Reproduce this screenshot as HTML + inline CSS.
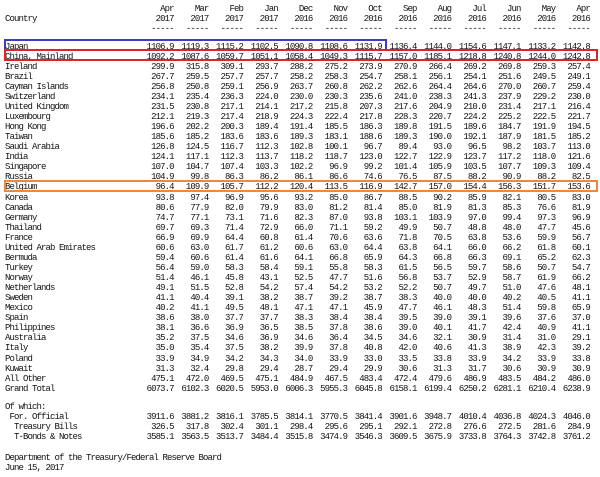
<!DOCTYPE html>
<html><head><meta charset="utf-8"><style>
body{margin:0;background:#fff;}
#w{position:relative;width:600px;height:477px;overflow:hidden;font-family:"Liberation Mono","Noto Sans CJK SC",monospace;font-size:9px;letter-spacing:-0.9px;color:#111;}
table{position:absolute;left:5px;border-collapse:collapse;table-layout:fixed;}
td{padding:0;height:10.07px;line-height:10.07px;text-align:right;white-space:pre;overflow:visible;}
td:first-child{text-align:left;}
.b{position:absolute;box-sizing:border-box;border:2px solid;}
.t{position:absolute;left:5px;white-space:pre;}
</style></head><body><div id="w">
<table style="top:3.5px">
<colgroup><col style="width:134px"><col span="13" style="width:34.7px"></colgroup>
<tr><td></td><td>Apr</td><td>Mar</td><td>Feb</td><td>Jan</td><td>Dec</td><td>Nov</td><td>Oct</td><td>Sep</td><td>Aug</td><td>Jul</td><td>Jun</td><td>May</td><td>Apr</td></tr>
<tr><td>Country</td><td>2017</td><td>2017</td><td>2017</td><td>2017</td><td>2016</td><td>2016</td><td>2016</td><td>2016</td><td>2016</td><td>2016</td><td>2016</td><td>2016</td><td>2016</td></tr>
<tr><td></td><td>-----</td><td>-----</td><td>-----</td><td>-----</td><td>-----</td><td>-----</td><td>-----</td><td>-----</td><td>-----</td><td>-----</td><td>-----</td><td>-----</td><td>-----</td></tr>
</table>
<table style="top:41.6px">
<colgroup><col style="width:134px"><col span="13" style="width:34.7px"></colgroup>
<tr><td>Japan</td><td>1106.9</td><td>1119.3</td><td>1115.2</td><td>1102.5</td><td>1090.8</td><td>1108.6</td><td>1131.9</td><td>1136.4</td><td>1144.0</td><td>1154.6</td><td>1147.1</td><td>1133.2</td><td>1142.8</td></tr>
<tr><td>China, Mainland</td><td>1092.2</td><td>1087.6</td><td>1059.7</td><td>1051.1</td><td>1058.4</td><td>1049.3</td><td>1115.7</td><td>1157.0</td><td>1185.1</td><td>1218.8</td><td>1240.8</td><td>1244.0</td><td>1242.8</td></tr>
<tr><td>Ireland</td><td>299.9</td><td>315.8</td><td>309.1</td><td>293.7</td><td>288.2</td><td>275.2</td><td>273.9</td><td>270.9</td><td>266.4</td><td>269.2</td><td>269.8</td><td>259.3</td><td>257.4</td></tr>
<tr><td>Brazil</td><td>267.7</td><td>259.5</td><td>257.7</td><td>257.7</td><td>258.2</td><td>258.3</td><td>254.7</td><td>258.1</td><td>256.1</td><td>254.1</td><td>251.6</td><td>249.5</td><td>249.1</td></tr>
<tr><td>Cayman Islands</td><td>256.8</td><td>250.8</td><td>259.1</td><td>256.9</td><td>263.7</td><td>260.8</td><td>262.2</td><td>262.6</td><td>264.4</td><td>264.6</td><td>270.0</td><td>260.7</td><td>259.4</td></tr>
<tr><td>Switzerland</td><td>234.1</td><td>235.4</td><td>236.3</td><td>224.0</td><td>230.0</td><td>230.3</td><td>235.6</td><td>241.0</td><td>238.3</td><td>241.3</td><td>237.9</td><td>229.2</td><td>230.0</td></tr>
<tr><td>United Kingdom</td><td>231.5</td><td>230.8</td><td>217.1</td><td>214.1</td><td>217.2</td><td>215.8</td><td>207.3</td><td>217.6</td><td>204.9</td><td>210.0</td><td>231.4</td><td>217.1</td><td>216.4</td></tr>
<tr><td>Luxembourg</td><td>212.1</td><td>219.3</td><td>217.4</td><td>218.9</td><td>224.3</td><td>222.4</td><td>217.8</td><td>228.3</td><td>220.7</td><td>224.2</td><td>225.2</td><td>222.5</td><td>221.7</td></tr>
<tr><td>Hong Kong</td><td>196.6</td><td>202.2</td><td>200.3</td><td>189.4</td><td>191.4</td><td>185.5</td><td>186.3</td><td>189.8</td><td>191.5</td><td>189.6</td><td>184.7</td><td>191.9</td><td>194.5</td></tr>
<tr><td>Taiwan</td><td>185.6</td><td>185.2</td><td>183.6</td><td>183.6</td><td>189.3</td><td>183.1</td><td>188.6</td><td>189.3</td><td>190.0</td><td>192.1</td><td>187.9</td><td>181.5</td><td>185.2</td></tr>
<tr><td>Saudi Arabia</td><td>126.8</td><td>124.5</td><td>116.7</td><td>112.3</td><td>102.8</td><td>100.1</td><td>96.7</td><td>89.4</td><td>93.0</td><td>96.5</td><td>98.2</td><td>103.7</td><td>113.0</td></tr>
<tr><td>India</td><td>124.1</td><td>117.1</td><td>112.3</td><td>113.7</td><td>118.2</td><td>118.7</td><td>123.0</td><td>122.7</td><td>122.9</td><td>123.7</td><td>117.2</td><td>118.0</td><td>121.6</td></tr>
<tr><td>Singapore</td><td>107.0</td><td>104.7</td><td>107.4</td><td>103.3</td><td>102.2</td><td>96.9</td><td>99.2</td><td>101.4</td><td>105.9</td><td>103.5</td><td>107.7</td><td>109.3</td><td>109.4</td></tr>
<tr><td>Russia</td><td>104.9</td><td>99.8</td><td>86.3</td><td>86.2</td><td>86.1</td><td>86.6</td><td>74.6</td><td>76.5</td><td>87.5</td><td>88.2</td><td>90.9</td><td>88.2</td><td>82.5</td></tr>
<tr><td>Belgium</td><td>96.4</td><td>109.9</td><td>105.7</td><td>112.2</td><td>120.4</td><td>113.5</td><td>116.9</td><td>142.7</td><td>157.0</td><td>154.4</td><td>156.3</td><td>151.7</td><td>153.6</td></tr>
<tr><td>Korea</td><td>93.8</td><td>97.4</td><td>96.9</td><td>95.6</td><td>93.2</td><td>85.0</td><td>86.7</td><td>88.5</td><td>90.2</td><td>85.9</td><td>82.1</td><td>80.5</td><td>83.0</td></tr>
<tr><td>Canada</td><td>80.6</td><td>77.9</td><td>82.0</td><td>79.9</td><td>83.0</td><td>81.2</td><td>81.4</td><td>85.0</td><td>81.9</td><td>81.3</td><td>85.3</td><td>76.6</td><td>81.9</td></tr>
<tr><td>Germany</td><td>74.7</td><td>77.1</td><td>73.1</td><td>71.6</td><td>82.3</td><td>87.0</td><td>93.8</td><td>103.1</td><td>103.9</td><td>97.0</td><td>99.4</td><td>97.3</td><td>96.9</td></tr>
<tr><td>Thailand</td><td>69.7</td><td>69.3</td><td>71.4</td><td>72.9</td><td>66.0</td><td>71.1</td><td>59.2</td><td>49.9</td><td>50.7</td><td>48.8</td><td>48.0</td><td>47.7</td><td>45.6</td></tr>
<tr><td>France</td><td>66.9</td><td>69.9</td><td>64.4</td><td>60.8</td><td>61.4</td><td>70.6</td><td>63.6</td><td>71.8</td><td>70.5</td><td>63.8</td><td>53.6</td><td>59.9</td><td>56.7</td></tr>
<tr><td>United Arab Emirates</td><td>60.6</td><td>63.0</td><td>61.7</td><td>61.2</td><td>60.6</td><td>63.0</td><td>64.4</td><td>63.8</td><td>64.1</td><td>66.0</td><td>66.2</td><td>61.8</td><td>60.1</td></tr>
<tr><td>Bermuda</td><td>59.4</td><td>60.6</td><td>61.4</td><td>61.6</td><td>64.1</td><td>66.8</td><td>65.9</td><td>64.3</td><td>66.8</td><td>66.3</td><td>69.1</td><td>65.2</td><td>62.3</td></tr>
<tr><td>Turkey</td><td>56.4</td><td>59.0</td><td>58.3</td><td>58.4</td><td>59.1</td><td>55.8</td><td>58.3</td><td>61.5</td><td>56.5</td><td>59.7</td><td>58.6</td><td>50.7</td><td>54.7</td></tr>
<tr><td>Norway</td><td>51.4</td><td>46.1</td><td>45.8</td><td>43.1</td><td>52.5</td><td>47.7</td><td>51.6</td><td>56.8</td><td>53.7</td><td>52.9</td><td>58.7</td><td>61.9</td><td>66.2</td></tr>
<tr><td>Netherlands</td><td>49.1</td><td>51.5</td><td>52.8</td><td>54.2</td><td>57.4</td><td>54.2</td><td>53.2</td><td>52.2</td><td>50.7</td><td>49.7</td><td>51.0</td><td>47.6</td><td>48.1</td></tr>
<tr><td>Sweden</td><td>41.1</td><td>40.4</td><td>39.1</td><td>38.2</td><td>38.7</td><td>39.2</td><td>38.7</td><td>38.3</td><td>40.0</td><td>40.0</td><td>40.2</td><td>40.5</td><td>41.1</td></tr>
<tr><td>Mexico</td><td>40.2</td><td>41.1</td><td>49.5</td><td>48.1</td><td>47.1</td><td>47.1</td><td>45.9</td><td>47.7</td><td>46.1</td><td>48.3</td><td>51.4</td><td>59.8</td><td>65.9</td></tr>
<tr><td>Spain</td><td>38.6</td><td>38.0</td><td>37.7</td><td>37.7</td><td>38.3</td><td>38.4</td><td>38.4</td><td>39.5</td><td>39.0</td><td>39.1</td><td>39.6</td><td>37.6</td><td>37.0</td></tr>
<tr><td>Philippines</td><td>38.1</td><td>36.6</td><td>36.9</td><td>36.5</td><td>38.5</td><td>37.8</td><td>38.6</td><td>39.0</td><td>40.1</td><td>41.7</td><td>42.4</td><td>40.9</td><td>41.1</td></tr>
<tr><td>Australia</td><td>35.2</td><td>37.5</td><td>34.6</td><td>36.9</td><td>34.6</td><td>36.4</td><td>34.5</td><td>34.6</td><td>32.1</td><td>30.9</td><td>31.4</td><td>31.0</td><td>29.1</td></tr>
<tr><td>Italy</td><td>35.0</td><td>35.4</td><td>37.5</td><td>38.2</td><td>39.9</td><td>37.8</td><td>40.8</td><td>42.0</td><td>40.6</td><td>41.3</td><td>38.9</td><td>42.3</td><td>39.2</td></tr>
<tr><td>Poland</td><td>33.9</td><td>34.9</td><td>34.2</td><td>34.3</td><td>34.0</td><td>33.9</td><td>33.0</td><td>33.5</td><td>33.8</td><td>33.9</td><td>34.2</td><td>33.9</td><td>33.8</td></tr>
<tr><td>Kuwait</td><td>31.3</td><td>32.4</td><td>29.8</td><td>29.4</td><td>28.7</td><td>29.4</td><td>29.9</td><td>30.6</td><td>31.3</td><td>31.7</td><td>30.6</td><td>30.9</td><td>30.9</td></tr>
<tr><td>All Other</td><td>475.1</td><td>472.0</td><td>469.5</td><td>475.1</td><td>484.9</td><td>467.5</td><td>483.4</td><td>472.4</td><td>479.6</td><td>486.9</td><td>483.5</td><td>484.2</td><td>486.0</td></tr>
<tr><td>Grand Total</td><td>6073.7</td><td>6102.3</td><td>6020.5</td><td>5953.0</td><td>6006.3</td><td>5955.3</td><td>6045.8</td><td>6158.1</td><td>6199.4</td><td>6250.2</td><td>6281.1</td><td>6210.4</td><td>6238.9</td></tr>
</table>
<table style="top:402px">
<colgroup><col style="width:134px"><col span="13" style="width:34.7px"></colgroup>
<tr><td>Of which:</td><td colspan="13"></td></tr>
<tr><td> For. Official</td><td>3911.6</td><td>3881.2</td><td>3816.1</td><td>3785.5</td><td>3814.1</td><td>3770.5</td><td>3841.4</td><td>3901.6</td><td>3948.7</td><td>4010.4</td><td>4036.8</td><td>4024.3</td><td>4046.0</td></tr>
<tr><td>  Treasury Bills</td><td>326.5</td><td>317.8</td><td>302.4</td><td>301.1</td><td>298.4</td><td>295.6</td><td>295.1</td><td>292.1</td><td>272.8</td><td>276.6</td><td>272.5</td><td>281.6</td><td>284.9</td></tr>
<tr><td>  T-Bonds &amp; Notes</td><td>3585.1</td><td>3563.5</td><td>3513.7</td><td>3484.4</td><td>3515.8</td><td>3474.9</td><td>3546.3</td><td>3609.5</td><td>3675.9</td><td>3733.8</td><td>3764.3</td><td>3742.8</td><td>3761.2</td></tr>
</table>
<div class="t" style="top:453px">Department of the Treasury/Federal Reserve Board</div>
<div class="t" style="top:463px">June 15, 2017</div>
<div class="b" style="left:4px;top:39px;width:383px;height:12px;border-color:#3b3bc4"></div>
<div class="b" style="left:4px;top:49px;width:594px;height:12px;border-color:#e02424"></div>
<div class="b" style="left:4px;top:180px;width:594px;height:12px;border-color:#f0883a"></div>
</div></body></html>
